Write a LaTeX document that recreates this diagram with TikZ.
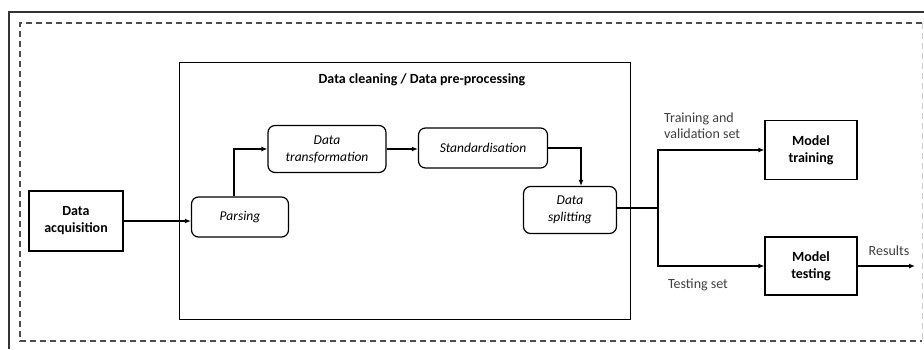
\documentclass[tikz,border=0pt]{standalone}
\usepackage{fontspec}
\setmainfont{Carlito}
\usetikzlibrary{positioning,arrows.meta}
\tikzset{
  solidbox/.style={draw, line width=1.2pt, minimum width=94pt, minimum height=60pt, align=center, font=\bfseries\fontsize{14}{17}\selectfont},
  stepbox/.style={draw, line width=1.2pt, rounded corners=7pt, align=center, font=\itshape\fontsize{13.5}{17}\selectfont},
  flow/.style={line width=1.4pt, -{Latex[length=6pt,width=5pt]}},
  lbl/.style={font=\fontsize{14}{16}\selectfont, text=black!75, inner sep=0pt},
}
\begin{document}
\begin{tikzpicture}[x=1pt,y=-1pt]
\useasboundingbox (0,0) rectangle (924,349);
% frames
\draw[line width=2pt, black!80] (9,349) -- (9,12) -- (924,12);
\draw[line width=1.2pt, black!70, dash pattern=on 6pt off 4pt] (922,23) -- (20,23) -- (20,341) -- (922,341);
\draw[black!20, dash pattern=on 6pt off 4pt] (922,23) -- (922,341);
\node[draw, line width=1.2pt, minimum width=451pt, minimum height=257pt, anchor=north west, inner sep=0pt] (clean) at (179,62) {};
\node[font=\bfseries\fontsize{14}{17}\selectfont] (cleantitle) at (422,80) {Data cleaning / Data pre-processing};
% nodes
\node[solidbox] (acq) at (76,221) {Data\\acquisition};
\node[stepbox, minimum width=97pt, minimum height=40pt] (parse) at (240,217) {Parsing};
\node[stepbox, minimum width=118pt, minimum height=47pt] (transf) at (327,149) {Data\\transformation};
\node[stepbox, minimum width=129pt, minimum height=40pt] (stand) at (483,148) {Standardisation};
\node[stepbox, minimum width=93pt, minimum height=47pt] (split) at (570,210) {Data\\splitting};
\node[solidbox, minimum width=92pt, minimum height=59pt] (train) at (811,150) {Model\\training};
\node[solidbox, minimum width=92pt, minimum height=58pt] (test) at (811,266) {Model\\testing};
\coordinate (fork) at (658,208);
\coordinate (res) at (915,266);
% connectors
\draw[flow] (acq.east) -- (parse.west |- acq.east);
\draw[flow] (parse.north -| 234,0) |- (transf.west);
\draw[flow] (transf.east) -- (stand.west |- transf.east);
\draw[flow] (stand.east) -| (split.north -| 581,0);
\draw[line width=1.4pt] (split.east |- fork) -- (fork);
\draw[flow] (fork) |- (train.west);
\draw[flow] (fork) |- (test.west);
\draw[flow] (test.east) -- (res);
% labels
\node[lbl, align=left, anchor=south west] (trainlbl) at (664,139) {Training and\\validation set};
\node[lbl] (testlbl) at (698,285) {Testing set};
\node[lbl] (reslbl) at (889,251) {Results};
\end{tikzpicture}
\end{document}
